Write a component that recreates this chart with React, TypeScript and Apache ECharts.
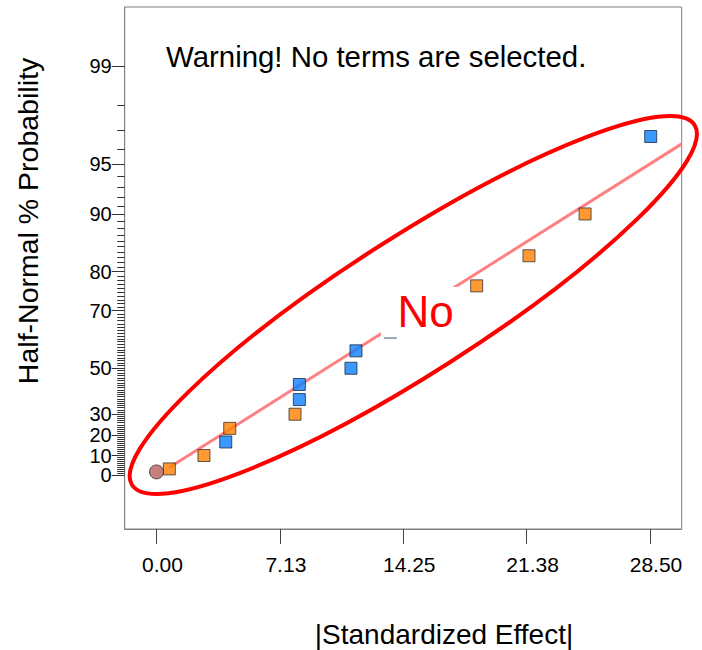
import React, { useEffect, useRef } from "react";
import * as echarts from "echarts";

// ---- data ----
const xTickValues = [0, 7.125, 14.25, 21.375, 28.5];
const yMajorPercents = [0, 10, 20, 30, 50, 70, 80, 90, 95, 99];

const orangeEffect = [0.74, 2.74, 4.23, 8.0, 18.49, 21.51, 24.75];
const orangeProb = [3.3, 10.0, 23.3, 30.0, 76.7, 83.3, 90.0];

const blueEffect = [4.0, 8.25, 8.25, 11.23, 11.52, 13.51, 14.6, 28.54];
const blueProb = [16.7, 36.7, 43.3, 50.0, 56.7, 63.3, 70.0, 96.7];

const originEffect = [0];
const originProb = [1.8];

const fitEffect = [0.74, 30.33];
const fitProb = [4.06, 96.3];

const xRange = [-1.836, 30.33];
const zRange = [-0.3365, 2.9465];

// ---- half-normal scale ----
function invNorm(p: number): number {
  const a = [-3.969683028665376e1, 2.209460984245205e2, -2.759285104469687e2, 1.38357751867269e2, -3.066479806614716e1, 2.506628277459239];
  const b = [-5.447609879822406e1, 1.615858368580409e2, -1.556989798598866e2, 6.680131188771972e1, -1.328068155288572e1];
  const c = [-7.784894002430293e-3, -3.223964580411365e-1, -2.400758277161838, -2.549732539343734, 4.374664141464968, 2.938163982698783];
  const d = [7.784695709041462e-3, 3.224671290700398e-1, 2.445134137142996, 3.754408661907416];
  const plow = 0.02425;
  const phigh = 1 - plow;
  if (p < plow) {
    const q = Math.sqrt(-2 * Math.log(p));
    return (((((c[0] * q + c[1]) * q + c[2]) * q + c[3]) * q + c[4]) * q + c[5]) / ((((d[0] * q + d[1]) * q + d[2]) * q + d[3]) * q + 1);
  }
  if (p <= phigh) {
    const q = p - 0.5;
    const r = q * q;
    return ((((((a[0] * r + a[1]) * r + a[2]) * r + a[3]) * r + a[4]) * r + a[5]) * q) / (((((b[0] * r + b[1]) * r + b[2]) * r + b[3]) * r + b[4]) * r + 1);
  }
  const q = Math.sqrt(-2 * Math.log(1 - p));
  return -(((((c[0] * q + c[1]) * q + c[2]) * q + c[3]) * q + c[4]) * q + c[5]) / ((((d[0] * q + d[1]) * q + d[2]) * q + d[3]) * q + 1);
}
const toZ = (pct: number) => (pct <= 0 ? 0 : invNorm(0.5 + pct / 200));

const yMinorPercents: number[] = [];
for (let i = 1; i <= 98; i++) if (!yMajorPercents.includes(i)) yMinorPercents.push(i);

const majorZ = yMajorPercents.map(toZ);
const minorZ = yMinorPercents.map(toZ);

const pts = (xs: number[], ps: number[]) => xs.map((x, i) => [x, toZ(ps[i])]);

const FONT = "Liberation Sans";

export default function App() {
  const ref = useRef<HTMLDivElement>(null);
  useEffect(() => {
    if (!ref.current) return;
    const chart = echarts.init(ref.current, undefined, { renderer: "svg" });
    const yBase = {
      type: "value" as const,
      min: zRange[0],
      max: zRange[1],
      position: "left" as const,
      splitLine: { show: false },
    };
    chart.setOption({
      animation: false,
      backgroundColor: "#ffffff",
      textStyle: { fontFamily: FONT },
      grid: {
        left: 124.7,
        right: 20.3,
        top: 7,
        bottom: 121,
        show: true,
        borderColor: "#808080",
        borderWidth: 1,
      },
      xAxis: {
        type: "value",
        min: xRange[0],
        max: xRange[1],
        splitLine: { show: false },
        axisLine: { show: true, onZero: false, lineStyle: { color: "#808080", width: 1 } },
        axisTick: {
          show: true,
          customValues: xTickValues,
          length: 15,
          lineStyle: { color: "#444", width: 1 },
        },
        axisLabel: {
          show: true,
          customValues: xTickValues,
          margin: 25,
          fontSize: 21,
          fontFamily: FONT,
          color: "#000",
          padding: [0, 0, 0, 12],
          showMinLabel: true,
          showMaxLabel: true,
          formatter: (v: number) => v.toFixed(2),
        },
      },
      yAxis: [
        {
          ...yBase,
          axisLine: { show: true, onZero: false, lineStyle: { color: "#808080", width: 1 } },
          axisTick: {
            show: true,
            customValues: majorZ,
            length: 13,
            lineStyle: { color: "#333", width: 1 },
          },
          axisLabel: {
            show: true,
            customValues: majorZ,
            margin: 13,
            fontSize: 20,
            lineHeight: 16,
            showMinLabel: true,
            showMaxLabel: true,
            hideOverlap: false,
            fontFamily: FONT,
            color: "#000",
            formatter: (v: number) => {
              const i = majorZ.findIndex((z) => Math.abs(z - v) < 1e-9);
              return i >= 0 ? String(yMajorPercents[i]) : "";
            },
          },
        },
        {
          ...yBase,
          axisLine: { show: false, onZero: false },
          axisTick: {
            show: true,
            customValues: minorZ,
            length: 7.5,
            lineStyle: { color: "#333", width: 1 },
          },
          axisLabel: { show: false },
        },
      ],
      series: [
        {
          type: "line",
          data: pts(fitEffect, fitProb),
          symbol: "none",
          lineStyle: { color: "#ff8080", width: 3 },
          z: 1,
          silent: true,
        },
        {
          type: "scatter",
          data: pts(orangeEffect, orangeProb),
          symbol: "rect",
          symbolSize: 12,
          itemStyle: { color: "#ff8000", borderColor: "#333", borderWidth: 1 },
          z: 3,
        },
        {
          type: "scatter",
          data: pts(blueEffect, blueProb),
          symbol: "rect",
          symbolSize: 12,
          itemStyle: { color: "#0a80ff", borderColor: "#1a2a40", borderWidth: 1 },
          z: 3,
        },
        {
          type: "scatter",
          data: pts(originEffect, originProb),
          symbol: "circle",
          symbolSize: 14,
          itemStyle: { color: "#b85f5f", borderColor: "#333", borderWidth: 1 },
          z: 4,
        },
      ],
      graphic: [
        {
          type: "rect",
          z: 100,
          shape: { x: 381, y: 287, width: 80, height: 50.5 },
          style: { fill: "#ffffff" },
        },
        {
          type: "text",
          z: 101,
          x: 397.5,
          y: 311.5,
          style: {
            text: "No",
            fill: "#ff0000",
            fontSize: 44,
            fontFamily: FONT,
            align: "left",
            verticalAlign: "middle",
          },
        },
        {
          type: "ellipse",
          z: 90,
          x: 413.3,
          y: 305,
          rotation: (32.6 * Math.PI) / 180,
          shape: { cx: 0, cy: 0, rx: 334, ry: 68 },
          style: { fill: "none", stroke: "#ff0000", lineWidth: 4 },
        },
        {
          type: "text",
          z: 101,
          x: 166,
          y: 56.6,
          style: {
            text: "Warning! No terms are selected.",
            fill: "#000",
            fontSize: 29.4,
            fontFamily: FONT,
            align: "left",
            verticalAlign: "middle",
          },
        },
        {
          type: "text",
          z: 101,
          x: 28,
          y: 221,
          rotation: Math.PI / 2,
          style: {
            text: "Half-Normal % Probability",
            fill: "#000",
            fontSize: 28.5,
            fontFamily: FONT,
            align: "center",
            verticalAlign: "middle",
          },
        },
        {
          type: "text",
          z: 101,
          x: 444,
          y: 634,
          style: {
            text: "|Standardized Effect|",
            fill: "#000",
            fontSize: 28,
            fontFamily: FONT,
            align: "center",
            verticalAlign: "middle",
          },
        },
      ],
    });
    return () => chart.dispose();
  }, []);
  return (
    <div
      ref={ref}
      style={{ position: "absolute", left: 0, top: 0, width: 702, height: 650 }}
    />
  );
}
